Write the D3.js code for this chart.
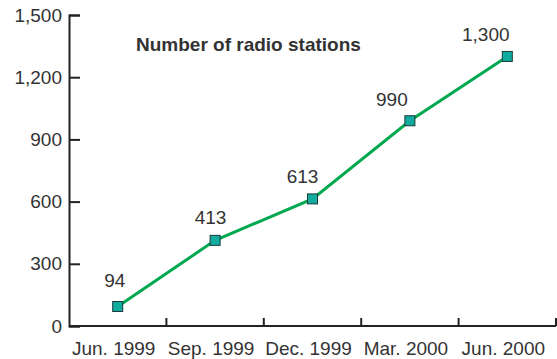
<!DOCTYPE html>
<html><head><meta charset="utf-8">
<script src="https://cdn.jsdelivr.net/npm/d3@7"></script>
<style>body{margin:0;background:#fff}svg{display:block}text{font-family:"Liberation Sans",Arial,sans-serif;fill:#333}</style>
</head><body><svg id="c" width="557" height="359"></svg>
<script>
const categories = ["Jun. 1999","Sep. 1999","Dec. 1999","Mar. 2000","Jun. 2000"];
const values = [94, 413, 613, 990, 1300];
const yTicks = [0, 300, 600, 900, 1200, 1500];
const title = "Number of radio stations";

const svg = d3.select("#c");
const x = d3.scaleBand().domain(categories).range([69, 556]);
const y = d3.scaleLinear().domain([0, 1500]).range([326, 15]);
const fmt = d3.format(",");

// y axis
const ya = svg.append("g").attr("transform","translate(69,0)")
  .call(d3.axisRight(y).tickValues(yTicks).tickSize(11).tickFormat(fmt).tickPadding(0));
ya.select(".domain").attr("stroke","#222").attr("stroke-width",2);
ya.selectAll(".tick line").attr("stroke","#222").attr("stroke-width",2);
ya.selectAll(".tick text").attr("x",-7).attr("text-anchor","end").attr("font-size",19).attr("fill","#333").attr("font-family","Liberation Sans, Arial, sans-serif");

// x axis
const xa = svg.append("g").attr("transform","translate(0,326)")
  .call(d3.axisBottom(x).tickSize(0).tickPadding(16));
xa.select(".domain").attr("stroke","#222").attr("stroke-width",2).attr("d","M69,0H556");
xa.selectAll(".tick text").attr("font-size",19).attr("fill","#333").attr("dy","0.71em").attr("x",-4).attr("font-family","Liberation Sans, Arial, sans-serif");
xa.selectAll(".bnd").data(categories).enter().append("line")
  .attr("x1", d => x(d) + x.bandwidth()).attr("x2", d => x(d) + x.bandwidth())
  .attr("y1", 0).attr("y2", -8).attr("stroke","#222").attr("stroke-width",2);

// line
const cx = d => x(d) + x.bandwidth()/2;
svg.append("path").datum(values)
  .attr("d", d3.line().x((d,i)=>cx(categories[i])).y(d=>y(d)))
  .attr("fill","none").attr("stroke","#00a84f").attr("stroke-width",3);

svg.selectAll(".m").data(values).enter().append("rect")
  .attr("x",(d,i)=>cx(categories[i])-5).attr("y",d=>y(d)-5)
  .attr("width",10).attr("height",10)
  .attr("fill","#12aba0").attr("stroke","#1a3a3a").attr("stroke-width",1);

// value label placement nudges (layout only)
const nudgeX = [-3, -4.5, -10, -18, -21.5];
const nudgeY = [-20, -16, -16, -15, -15];
svg.selectAll(".lbl").data(values).enter().append("text")
  .attr("x",(d,i)=>cx(categories[i]) + nudgeX[i]).attr("y",(d,i)=>y(d) + nudgeY[i])
  .attr("text-anchor","middle").attr("font-size",19).text(d=>fmt(d));

svg.append("text").attr("x",136).attr("y",51).attr("font-size",19).attr("font-weight","bold")
  .attr("fill","#222").text(title);
</script></body></html>
